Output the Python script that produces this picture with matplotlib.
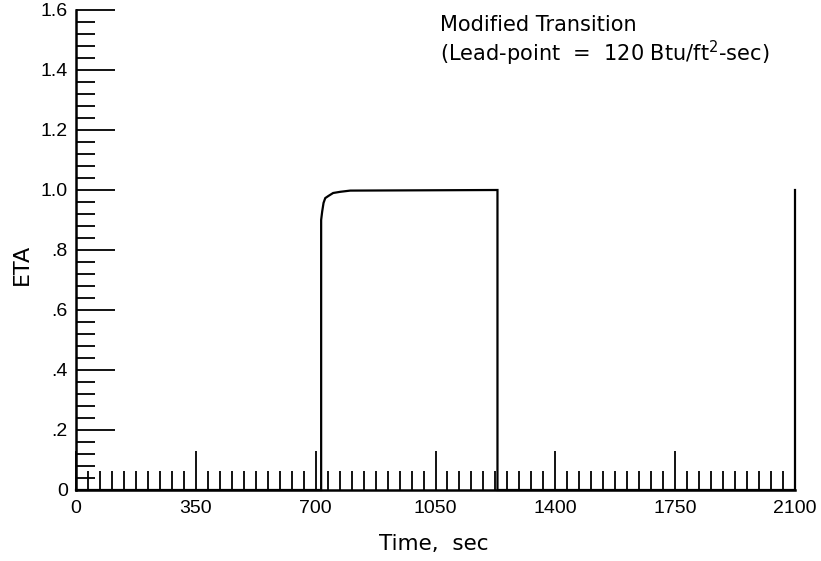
import numpy as np
import matplotlib
matplotlib.use("Agg")
import matplotlib.pyplot as plt
from matplotlib.ticker import MultipleLocator, FixedFormatter, FixedLocator

plt.rcParams['font.family'] = ['Liberation Sans', 'DejaVu Sans']

# ETA history
time = [0, 716, 716, 719, 723, 728, 737, 751, 772, 801, 1231, 1231, 2100, 2100]
eta = [0, 0, 0.90, 0.928, 0.957, 0.973, 0.98, 0.99, 0.994, 0.998, 1.0, 0, 0, 1.0]

xticks = [0, 350, 700, 1050, 1400, 1750, 2100]
yticks = [0, 0.2, 0.4, 0.6, 0.8, 1.0, 1.2, 1.4, 1.6]
ylabels = ['0', '.2', '.4', '.6', '.8', '1.0', '1.2', '1.4', '1.6']

fig = plt.figure(figsize=(8.21, 5.61), dpi=100)
ax = fig.add_axes([76 / 821, 1 - 490 / 561, 719 / 821, 480 / 561])

ax.plot(time, eta, color='black', lw=1.6, clip_on=False, solid_joinstyle='miter')

ax.set_xlim(0, 2100)
ax.set_ylim(0, 1.6)
ax.xaxis.set_major_locator(FixedLocator(xticks))
ax.xaxis.set_minor_locator(MultipleLocator(35))
ax.yaxis.set_major_locator(FixedLocator(yticks))
ax.yaxis.set_major_formatter(FixedFormatter(ylabels))
ax.yaxis.set_minor_locator(MultipleLocator(0.04))

for s in ['top', 'right']:
    ax.spines[s].set_visible(False)
for s in ['left', 'bottom']:
    ax.spines[s].set_linewidth(1.8)

ax.tick_params(which='major', direction='in', length=28, width=1.3, labelsize=14)
ax.tick_params(which='minor', direction='in', length=14, width=1.3)
ax.tick_params(axis='x', pad=7)
ax.tick_params(axis='y', pad=6)

ax.set_xlabel('Time,  sec', fontsize=15.5, family='DejaVu Sans')
ax.set_ylabel('ETA', fontsize=16, family='DejaVu Sans')
ax.xaxis.set_label_coords(0.498, -0.092)
ax.yaxis.set_label_coords(-0.062, 0.47)

ax.text(0.506, 0.99, 'Modified Transition', transform=ax.transAxes,
        fontsize=15, va='top', ha='left', family='DejaVu Sans')
ax.text(0.506, 0.94, '(Lead-point  =  120 Btu/ft$^{\\mathsf{2}}$-sec)',
        transform=ax.transAxes, fontsize=15, va='top', ha='left',
        family='DejaVu Sans')

fig.savefig('out.png', dpi=100)
